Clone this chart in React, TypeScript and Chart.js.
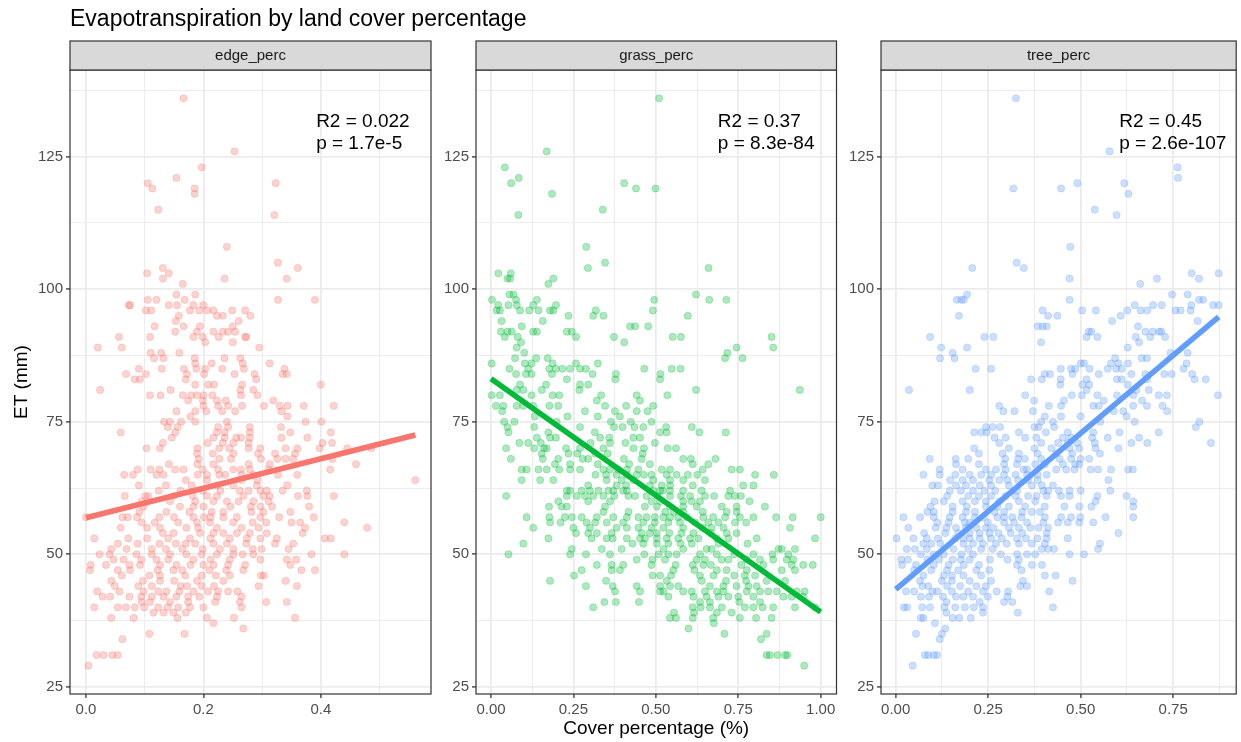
import React, { useEffect, useRef } from "react";
import { Chart, registerables } from "chart.js";
Chart.register(...registerables);

const TITLE = "Evapotranspiration by land cover percentage";
const X_TITLE = "Cover percentage (%)";
const Y_TITLE = "ET (mm)";

const yMajorTicks = [25, 50, 75, 100, 125];
const yMinorTicks = [37.5, 62.5, 87.5, 112.5, 137.5];
const edgeMajorTicks = [0, 0.2, 0.4];
const edgeMinorTicks = [0.1, 0.3, 0.5];
const grassMajorTicks = [0, 0.25, 0.5, 0.75, 1];
const grassMinorTicks = [0.125, 0.375, 0.625, 0.875];
const treeMajorTicks = [0, 0.25, 0.5, 0.75];
const treeMinorTicks = [0.125, 0.375, 0.625, 0.875];

// Fitted lm lines: [cover at start, cover at end], [ET at start, ET at end]
const edgeFitX = [0, 0.561];
const edgeFitY = [56.9, 72.5];
const grassFitX = [0, 1.0];
const grassFitY = [83.1, 39.1];
const treeFitX = [0, 0.873];
const treeFitY = [43.4, 94.8];

const edgeStats = ["R2 = 0.022", "p = 1.7e-5"];
const grassStats = ["R2 = 0.37", "p = 8.3e-84"];
const treeStats = ["R2 = 0.45", "p = 2.6e-107"];

// Each row: [ET (mm), cover fractions of the observations with that ET]
type Row = [number, number[]];
const edgeRows: Row[] = [
  [136, [0.166]], [126, [0.253]], [123, [0.197]], [121, [0.154]], [120, [0.105, 0.323]],
  [119, [0.113, 0.185]], [118, [0.185]], [115, [0.123]], [114, [0.321]], [108, [0.240]],
  [105, [0.327]], [104, [0.131, 0.361]], [103, [0.104, 0.141]], [102, [0.131, 0.236, 0.342]],
  [101, [0.165]], [99, [0.154, 0.186]], [98, [0.105, 0.120, 0.168, 0.327, 0.390]],
  [97, [0.073, 0.075, 0.141, 0.155, 0.183, 0.200]],
  [96, [0.102, 0.111, 0.177, 0.193, 0.206, 0.217, 0.249, 0.271]],
  [95, [0.158, 0.223, 0.233, 0.280]], [94, [0.153, 0.260]], [93, [0.117, 0.166, 0.194, 0.250]],
  [92, [0.152, 0.189, 0.217, 0.233, 0.242, 0.254]],
  [91, [0.056, 0.109, 0.183, 0.199, 0.226, 0.271, 0.273]], [90, [0.203, 0.250]],
  [89, [0.020, 0.061, 0.295]], [88, [0.110, 0.128, 0.159]], [87, [0.116, 0.132, 0.185, 0.236, 0.263]],
  [86, [0.186, 0.214, 0.267, 0.313]],
  [85, [0.090, 0.129, 0.167, 0.188, 0.203, 0.232, 0.269, 0.338]],
  [84, [0.068, 0.102, 0.172, 0.201, 0.253, 0.287, 0.335, 0.342]],
  [83, [0.083, 0.092, 0.170, 0.290]], [82, [0.186, 0.208, 0.218, 0.266, 0.400]],
  [81, [0.024, 0.144, 0.263, 0.285]],
  [80, [0.109, 0.127, 0.165, 0.179, 0.189, 0.200, 0.215, 0.264, 0.292]],
  [79, [0.174, 0.199, 0.223, 0.238, 0.319]],
  [78, [0.200, 0.225, 0.242, 0.266, 0.303, 0.330, 0.343, 0.371, 0.422]],
  [77, [0.154, 0.186, 0.205, 0.232, 0.254, 0.333]], [76, [0.178, 0.343]],
  [75, [0.133, 0.143, 0.162, 0.186, 0.240, 0.374, 0.401]],
  [74, [0.139, 0.156, 0.225, 0.242, 0.279, 0.332]],
  [73, [0.059, 0.152, 0.223, 0.236, 0.279, 0.348, 0.417]],
  [72, [0.146, 0.217, 0.236, 0.256, 0.264, 0.279, 0.333, 0.377]],
  [71, [0.131, 0.207, 0.233, 0.251, 0.277, 0.403, 0.419]],
  [70, [0.103, 0.126, 0.190, 0.227, 0.244, 0.277, 0.297, 0.340, 0.360, 0.398, 0.445, 0.486]],
  [69, [0.189, 0.216, 0.251, 0.293, 0.322, 0.356]],
  [68, [0.192, 0.227, 0.247, 0.298, 0.326, 0.340, 0.353, 0.420]],
  [67, [0.141, 0.190, 0.217, 0.277, 0.313, 0.460]],
  [66, [0.088, 0.110, 0.125, 0.152, 0.166, 0.199, 0.225, 0.251, 0.264, 0.279, 0.311, 0.416]],
  [65, [0.065, 0.080, 0.120, 0.132, 0.190, 0.206, 0.227, 0.237, 0.265, 0.285, 0.327, 0.360]],
  [64, [0.170, 0.206, 0.265, 0.292, 0.561]],
  [63, [0.090, 0.136, 0.180, 0.223, 0.251, 0.291, 0.343]],
  [62, [0.124, 0.161, 0.199, 0.229, 0.262, 0.277, 0.297, 0.308, 0.335, 0.376]],
  [61, [0.066, 0.101, 0.106, 0.149, 0.182, 0.206, 0.223, 0.268, 0.302, 0.313, 0.361, 0.377, 0.422]],
  [60, [0.095, 0.143, 0.186, 0.217, 0.240, 0.260, 0.285, 0.311]],
  [59, [0.098, 0.160, 0.183, 0.200, 0.246, 0.281, 0.297, 0.317, 0.380]],
  [58, [0.091, 0.137, 0.176, 0.214, 0.234, 0.282, 0.302, 0.348]],
  [57, [0.000, 0.062, 0.071, 0.087, 0.125, 0.150, 0.183, 0.201, 0.212, 0.234, 0.257, 0.297, 0.329, 0.388]],
  [56, [0.095, 0.117, 0.157, 0.189, 0.211, 0.251, 0.284, 0.307, 0.350, 0.365, 0.440]],
  [55, [0.059, 0.104, 0.126, 0.171, 0.191, 0.223, 0.265, 0.294, 0.373, 0.479]],
  [54, [0.131, 0.149, 0.194, 0.217, 0.234, 0.257, 0.279, 0.308, 0.369]],
  [53, [0.014, 0.072, 0.104, 0.140, 0.177, 0.212, 0.245, 0.274, 0.297, 0.325, 0.407, 0.417]],
  [52, [0.054, 0.088, 0.125, 0.153, 0.170, 0.186, 0.217, 0.240, 0.273, 0.322, 0.353]],
  [51, [0.043, 0.069, 0.112, 0.136, 0.164, 0.199, 0.228, 0.251, 0.284, 0.299, 0.345]],
  [50, [0.023, 0.040, 0.086, 0.112, 0.143, 0.171, 0.197, 0.223, 0.251, 0.267, 0.285, 0.384, 0.440]],
  [49, [0.047, 0.064, 0.094, 0.120, 0.140, 0.183, 0.212, 0.245, 0.297, 0.342, 0.358]],
  [48, [0.008, 0.034, 0.074, 0.092, 0.126, 0.154, 0.178, 0.200, 0.217, 0.242, 0.271, 0.348]],
  [47, [0.007, 0.054, 0.075, 0.122, 0.149, 0.164, 0.210, 0.239, 0.268, 0.367, 0.390]],
  [46, [0.061, 0.108, 0.126, 0.169, 0.197, 0.221, 0.245, 0.298, 0.303]],
  [45, [0.043, 0.097, 0.126, 0.150, 0.189, 0.234, 0.340]],
  [44, [0.049, 0.089, 0.112, 0.161, 0.172, 0.197, 0.218, 0.294, 0.359]],
  [43, [0.019, 0.057, 0.098, 0.123, 0.137, 0.159, 0.183, 0.208, 0.225, 0.242, 0.258]],
  [42, [0.028, 0.041, 0.074, 0.094, 0.112, 0.132, 0.154, 0.174, 0.193, 0.223, 0.265]],
  [41, [0.095, 0.109, 0.143, 0.174, 0.220, 0.262, 0.307, 0.342]],
  [40, [0.014, 0.054, 0.068, 0.083, 0.099, 0.123, 0.139, 0.157, 0.177, 0.200, 0.265]],
  [39, [0.115, 0.132, 0.149, 0.170]], [38, [0.043, 0.081, 0.156, 0.206, 0.252, 0.356]],
  [37, [0.217]], [36, [0.268]], [35, [0.108, 0.168]], [34, [0.062]],
  [31, [0.018, 0.030, 0.045, 0.054]], [29, [0.004]],
];

const grassRows: Row[] = [
  [136, [0.510]], [126, [0.169]], [123, [0.042]], [121, [0.084]], [120, [0.061, 0.404]],
  [119, [0.440, 0.499]], [118, [0.185]], [115, [0.339]], [114, [0.083]], [108, [0.289]],
  [105, [0.346]], [104, [0.294, 0.660]], [103, [0.022, 0.060]], [102, [0.050, 0.058, 0.189]],
  [101, [0.174]], [99, [0.056, 0.068, 0.622]], [98, [0.003, 0.076, 0.139, 0.495, 0.662, 0.714]],
  [97, [0.022, 0.053, 0.078, 0.128, 0.197]],
  [96, [0.017, 0.027, 0.088, 0.116, 0.144, 0.179, 0.189, 0.318, 0.491]],
  [95, [0.235, 0.310, 0.341, 0.597]], [94, [0.032, 0.157]], [93, [0.093, 0.422, 0.437, 0.477]],
  [92, [0.030, 0.050, 0.063, 0.128, 0.139, 0.230, 0.245]],
  [91, [0.042, 0.081, 0.258, 0.373, 0.551, 0.576, 0.851]], [90, [0.091, 0.404]],
  [89, [0.078, 0.745, 0.856]], [88, [0.101, 0.717]], [87, [0.073, 0.137, 0.172, 0.710, 0.763]],
  [86, [0.002, 0.103, 0.123, 0.187, 0.258, 0.324]],
  [85, [0.056, 0.113, 0.177, 0.197, 0.217, 0.240, 0.270, 0.288, 0.465, 0.548, 0.575]],
  [84, [0.076, 0.106, 0.123, 0.185, 0.308, 0.379, 0.514]],
  [83, [0.230, 0.377, 0.513]], [82, [0.088, 0.167, 0.270, 0.295]],
  [81, [0.078, 0.098, 0.154, 0.268, 0.622, 0.937]],
  [80, [0.002, 0.027, 0.123, 0.187, 0.207, 0.334, 0.442, 0.535]], [79, [0.321, 0.452]],
  [78, [0.015, 0.037, 0.078, 0.098, 0.128, 0.177, 0.204, 0.346, 0.410, 0.492]],
  [77, [0.034, 0.285, 0.376, 0.442, 0.475]], [76, [0.133, 0.232, 0.324, 0.391]],
  [75, [0.040, 0.071, 0.199, 0.364, 0.424, 0.487]],
  [74, [0.050, 0.131, 0.270, 0.373, 0.399, 0.435, 0.462, 0.531, 0.609]],
  [73, [0.053, 0.174, 0.315, 0.513, 0.533, 0.632, 0.712]],
  [72, [0.139, 0.179, 0.197, 0.331, 0.359, 0.432, 0.452]],
  [71, [0.086, 0.113, 0.151, 0.302, 0.361, 0.408, 0.497]],
  [70, [0.046, 0.131, 0.161, 0.169, 0.228, 0.270, 0.341, 0.432, 0.464, 0.536, 0.561]],
  [69, [0.154, 0.235, 0.262, 0.316, 0.354, 0.460]],
  [68, [0.060, 0.157, 0.204, 0.278, 0.295, 0.403, 0.457, 0.583, 0.606, 0.681]],
  [67, [0.194, 0.240, 0.324, 0.419, 0.482, 0.612, 0.659]],
  [66, [0.093, 0.108, 0.144, 0.169, 0.207, 0.240, 0.270, 0.341, 0.361, 0.386, 0.412, 0.447, 0.518, 0.543, 0.642, 0.730, 0.755]],
  [65, [0.317, 0.349, 0.381, 0.412, 0.442, 0.464, 0.487, 0.533, 0.563, 0.597, 0.626, 0.801, 0.858]],
  [64, [0.093, 0.149, 0.189, 0.351, 0.396, 0.432, 0.492, 0.543, 0.583, 0.649]],
  [63, [0.295, 0.381, 0.410, 0.482, 0.518, 0.543, 0.612, 0.765, 0.796]],
  [62, [0.230, 0.240, 0.275, 0.300, 0.326, 0.356, 0.371, 0.401, 0.412, 0.492, 0.513, 0.521, 0.543, 0.583, 0.639, 0.725]],
  [61, [0.046, 0.230, 0.260, 0.285, 0.310, 0.341, 0.374, 0.417, 0.437, 0.472, 0.506, 0.543, 0.576, 0.604, 0.649, 0.677, 0.720, 0.740, 0.758]],
  [60, [0.204, 0.295, 0.361, 0.487, 0.513, 0.583, 0.609, 0.634, 0.784]],
  [59, [0.176, 0.214, 0.230, 0.346, 0.467, 0.503, 0.543, 0.583, 0.624, 0.700, 0.745, 0.831]],
  [58, [0.341, 0.417, 0.528, 0.555, 0.583, 0.642, 0.715, 0.745]],
  [57, [0.108, 0.177, 0.224, 0.245, 0.275, 0.321, 0.371, 0.412, 0.447, 0.472, 0.497, 0.523, 0.543, 0.568, 0.594, 0.644, 0.674, 0.710, 0.755, 0.796, 0.865, 0.915, 1.000]],
  [56, [0.179, 0.211, 0.290, 0.316, 0.351, 0.401, 0.462, 0.497, 0.538, 0.573, 0.619, 0.659, 0.690, 0.740, 0.774]],
  [55, [0.128, 0.250, 0.300, 0.381, 0.412, 0.447, 0.487, 0.523, 0.583, 0.642, 0.669, 0.705, 0.907]],
  [54, [0.258, 0.295, 0.321, 0.366, 0.457, 0.482, 0.503, 0.541, 0.578, 0.614, 0.667, 0.715, 0.745]],
  [53, [0.174, 0.305, 0.351, 0.369, 0.412, 0.452, 0.467, 0.503, 0.533, 0.568, 0.604, 0.629, 0.685, 0.720, 0.806, 0.983]],
  [52, [0.098, 0.429, 0.462, 0.503, 0.538, 0.575, 0.609, 0.690, 0.778]],
  [51, [0.245, 0.336, 0.396, 0.523, 0.583, 0.654, 0.669, 0.872, 0.882, 0.922]],
  [50, [0.053, 0.240, 0.288, 0.361, 0.465, 0.508, 0.538, 0.563, 0.634, 0.685, 0.738, 0.796, 0.854, 0.902]],
  [49, [0.442, 0.490, 0.528, 0.624, 0.649, 0.700, 0.720, 0.776, 0.816, 0.856, 0.897, 0.917]],
  [48, [0.321, 0.366, 0.401, 0.487, 0.560, 0.612, 0.644, 0.667, 0.760, 0.826, 0.912, 0.947, 0.976]],
  [47, [0.275, 0.366, 0.391, 0.553, 0.617, 0.685, 0.715, 0.776, 0.882, 0.922]],
  [46, [0.252, 0.490, 0.513, 0.546, 0.634, 0.675, 0.738, 0.770, 0.801]],
  [45, [0.179, 0.349, 0.533, 0.639, 0.713, 0.774, 0.836, 0.892]],
  [44, [0.288, 0.369, 0.442, 0.513, 0.543, 0.568, 0.664, 0.705, 0.745, 0.781, 0.806]],
  [43, [0.376, 0.452, 0.513, 0.523, 0.583, 0.609, 0.649, 0.685, 0.705, 0.776, 0.816, 0.841, 0.867, 0.927, 0.951]],
  [42, [0.538, 0.614, 0.654, 0.690, 0.720, 0.750, 0.796, 0.887, 0.912, 0.947]],
  [41, [0.344, 0.379, 0.449, 0.634, 0.664, 0.753, 0.816]],
  [40, [0.310, 0.612, 0.636, 0.664, 0.700, 0.770, 0.796, 0.824, 0.856, 0.922, 0.983]],
  [39, [0.555, 0.616, 0.685, 0.730]], [38, [0.543, 0.561, 0.612, 0.674, 0.755, 0.804, 0.851]],
  [37, [0.676]], [36, [0.599]], [35, [0.708, 0.836]], [34, [0.819]],
  [31, [0.836, 0.846, 0.869, 0.892, 0.899]], [29, [0.950]],
];

const treeRows: Row[] = [
  [136, [0.325]], [126, [0.578]], [123, [0.762]], [121, [0.763]], [120, [0.491, 0.618]],
  [119, [0.318, 0.447]], [118, [0.629]], [115, [0.538]], [114, [0.597]], [108, [0.472]],
  [105, [0.327]], [104, [0.207, 0.346]], [103, [0.800, 0.873]], [102, [0.470, 0.706, 0.820]],
  [101, [0.661]], [99, [0.193, 0.747, 0.789]], [98, [0.165, 0.177, 0.184, 0.470, 0.820, 0.831]],
  [97, [0.646, 0.696, 0.719, 0.799, 0.858, 0.873]],
  [96, [0.397, 0.504, 0.541, 0.626, 0.662, 0.680, 0.756, 0.770, 0.797]],
  [95, [0.171, 0.412, 0.437, 0.608]], [94, [0.585, 0.816]], [93, [0.384, 0.397, 0.408, 0.655]],
  [92, [0.522, 0.529, 0.675, 0.695, 0.712, 0.718]],
  [91, [0.093, 0.240, 0.264, 0.516, 0.545, 0.649, 0.688, 0.728]], [90, [0.393, 0.658]],
  [89, [0.123, 0.193, 0.627]], [88, [0.154, 0.743, 0.789]], [87, [0.120, 0.159, 0.593, 0.665, 0.679]],
  [86, [0.500, 0.509, 0.582, 0.602, 0.628, 0.786]],
  [85, [0.216, 0.258, 0.446, 0.474, 0.485, 0.524, 0.573, 0.596, 0.611, 0.778]],
  [84, [0.403, 0.417, 0.478, 0.549, 0.637, 0.675, 0.726, 0.746, 0.801]],
  [83, [0.366, 0.395, 0.446, 0.516, 0.598, 0.611, 0.680, 0.808, 0.838]],
  [82, [0.445, 0.505, 0.523, 0.627]], [81, [0.036, 0.200, 0.516, 0.650, 0.684]],
  [80, [0.350, 0.476, 0.503, 0.545, 0.598, 0.642, 0.711, 0.733, 0.871]],
  [79, [0.374, 0.455, 0.562, 0.666]],
  [78, [0.280, 0.414, 0.447, 0.534, 0.549, 0.642, 0.679, 0.721]],
  [77, [0.291, 0.321, 0.371, 0.589, 0.615, 0.734]], [76, [0.403, 0.447, 0.500, 0.624]],
  [75, [0.393, 0.425, 0.553, 0.646, 0.821]],
  [74, [0.244, 0.262, 0.282, 0.375, 0.386, 0.428, 0.811]],
  [73, [0.212, 0.231, 0.246, 0.333, 0.406, 0.465, 0.534, 0.605, 0.711]],
  [72, [0.267, 0.297, 0.350, 0.380, 0.452, 0.474, 0.531, 0.573, 0.658]],
  [71, [0.280, 0.393, 0.439, 0.465, 0.490, 0.538, 0.637, 0.680, 0.852]],
  [70, [0.212, 0.306, 0.375, 0.421, 0.470, 0.496, 0.540, 0.602]],
  [69, [0.225, 0.289, 0.333, 0.383, 0.434, 0.477, 0.552]],
  [68, [0.092, 0.162, 0.196, 0.296, 0.331, 0.349, 0.393, 0.443, 0.474, 0.500, 0.523]],
  [67, [0.163, 0.225, 0.293, 0.328, 0.377, 0.403, 0.452, 0.485, 0.496]],
  [66, [0.119, 0.181, 0.244, 0.271, 0.297, 0.346, 0.355, 0.434, 0.461, 0.483, 0.527, 0.547, 0.582, 0.628, 0.641]],
  [65, [0.075, 0.119, 0.161, 0.200, 0.231, 0.258, 0.293, 0.324, 0.355, 0.384, 0.408]],
  [64, [0.147, 0.181, 0.209, 0.253, 0.280, 0.302, 0.331, 0.358, 0.384, 0.575]],
  [63, [0.099, 0.114, 0.163, 0.190, 0.227, 0.258, 0.306, 0.368, 0.395, 0.425]],
  [62, [0.146, 0.176, 0.209, 0.240, 0.269, 0.328, 0.399, 0.412, 0.441, 0.470, 0.500, 0.580]],
  [61, [0.139, 0.196, 0.225, 0.258, 0.297, 0.324, 0.358, 0.381, 0.408, 0.447, 0.470, 0.545, 0.624]],
  [60, [0.105, 0.130, 0.181, 0.214, 0.244, 0.280, 0.333, 0.377, 0.540, 0.642]],
  [59, [0.094, 0.154, 0.192, 0.244, 0.275, 0.306, 0.350, 0.403, 0.456, 0.496, 0.529, 0.642]],
  [58, [0.086, 0.103, 0.154, 0.190, 0.214, 0.267, 0.293, 0.342, 0.368, 0.390]],
  [57, [0.021, 0.066, 0.103, 0.146, 0.181, 0.214, 0.236, 0.275, 0.293, 0.315, 0.340, 0.403, 0.447, 0.474, 0.499, 0.567, 0.642]],
  [56, [0.112, 0.143, 0.187, 0.200, 0.249, 0.293, 0.320, 0.355, 0.399, 0.439, 0.465, 0.496, 0.534]],
  [55, [0.034, 0.108, 0.137, 0.163, 0.190, 0.218, 0.244, 0.264, 0.306, 0.333, 0.364, 0.386, 0.412]],
  [54, [0.077, 0.134, 0.169, 0.200, 0.227, 0.253, 0.278, 0.311, 0.342, 0.408, 0.602]],
  [53, [0.002, 0.048, 0.084, 0.114, 0.161, 0.183, 0.200, 0.227, 0.258, 0.287, 0.328, 0.352, 0.383, 0.408, 0.465]],
  [52, [0.075, 0.096, 0.121, 0.183, 0.209, 0.236, 0.271, 0.300, 0.333, 0.368, 0.403, 0.552]],
  [51, [0.030, 0.052, 0.084, 0.156, 0.196, 0.231, 0.262, 0.395, 0.412, 0.428, 0.547]],
  [50, [0.068, 0.103, 0.130, 0.178, 0.209, 0.284, 0.328, 0.355, 0.377, 0.470, 0.509]],
  [49, [0.015, 0.033, 0.086, 0.117, 0.154, 0.176, 0.200, 0.255, 0.302, 0.333]],
  [48, [0.017, 0.055, 0.103, 0.143, 0.184, 0.225, 0.328, 0.368, 0.395]],
  [47, [0.050, 0.096, 0.139, 0.169, 0.218, 0.253, 0.340]],
  [46, [0.075, 0.130, 0.152, 0.183, 0.231, 0.403, 0.432]],
  [45, [0.066, 0.125, 0.152, 0.200, 0.258, 0.344, 0.478]],
  [44, [0.072, 0.088, 0.139, 0.174, 0.218, 0.244, 0.337, 0.355]],
  [43, [0.028, 0.050, 0.099, 0.112, 0.152, 0.196, 0.236, 0.273, 0.304, 0.415]],
  [42, [0.068, 0.090, 0.128, 0.163, 0.183, 0.209, 0.249, 0.302]],
  [41, [0.137, 0.227, 0.293, 0.315]],
  [40, [0.022, 0.031, 0.072, 0.093, 0.132, 0.161, 0.187, 0.211, 0.236, 0.425]],
  [39, [0.137, 0.236, 0.330]], [38, [0.068, 0.075, 0.154, 0.172, 0.203]],
  [37, [0.106]], [36, [0.134]], [35, [0.055, 0.125]], [34, [0.119]],
  [31, [0.079, 0.088, 0.103, 0.112]], [29, [0.046]],
];

const W = 1241;
const H = 742;
const FONT = "'Liberation Sans', Arimo, Helvetica, Arial, sans-serif";
const f = (s: number) => `${s}px ${FONT}`;

const Y_MIN = 23.65;
const Y_MAX = 141.35;
const PANEL_TOP = 70;
const STRIP_TOP = 41;
const X_AXIS_H = 48;
const Y_AXIS_W = 40;
const STAT_Y = [131.5, 127.4];

type Panel = {
  key: string; rows: Row[]; fitX: number[]; fitY: number[]; stats: string[]; statX: number;
  major: number[]; minor: number[]; digits: number; rgb: string;
  L: number; R: number; xmin: number; xmax: number; role: "first" | "middle" | "last";
};

const panels: Panel[] = [
  { key: "edge_perc", rows: edgeRows, fitX: edgeFitX, fitY: edgeFitY, stats: edgeStats, statX: 0.392,
    major: edgeMajorTicks, minor: edgeMinorTicks, digits: 1, rgb: "248,118,109",
    L: 70, R: 431, xmin: -0.0273, xmax: 0.5877, role: "first" },
  { key: "grass_perc", rows: grassRows, fitX: grassFitX, fitY: grassFitY, stats: grassStats, statX: 0.688,
    major: grassMajorTicks, minor: grassMinorTicks, digits: 2, rgb: "0,186,56",
    L: 476, R: 836.5, xmin: -0.0455, xmax: 1.048, role: "middle" },
  { key: "tree_perc", rows: treeRows, fitX: treeFitX, fitY: treeFitY, stats: treeStats, statX: 0.604,
    major: treeMajorTicks, minor: treeMinorTicks, digits: 2, rgb: "97,156,255",
    L: 881, R: 1242.5, xmin: -0.0397, xmax: 0.9203, role: "last" },
];

const isIn = (arr: number[], v: number) => arr.some((a) => Math.abs(a - v) < 1e-9);

function makeGrid(minor: number[]) {
  return {
    color: "#EBEBEB",
    lineWidth: (c: any) => (c.tick && isIn(minor, c.tick.value) ? 0.9 : 1.8),
    tickColor: (c: any) => (c.tick && isIn(minor, c.tick.value) ? "rgba(0,0,0,0)" : "#333333"),
    tickWidth: 1.3,
    tickLength: 4,
    drawTicks: true,
    drawOnChartArea: true,
  };
}

function facetPlugin(p: Panel) {
  return {
    id: "facet_" + p.key,
    afterDraw(chart: any) {
      const { ctx, chartArea: a, scales } = chart;
      ctx.save();
      ctx.strokeStyle = "#333333";
      ctx.lineWidth = 1.2;
      ctx.strokeRect(a.left, a.top, a.right - a.left, a.bottom - a.top);
      ctx.fillStyle = "#D9D9D9";
      ctx.fillRect(a.left, STRIP_TOP, a.right - a.left, a.top - STRIP_TOP);
      ctx.strokeRect(a.left, STRIP_TOP, a.right - a.left, a.top - STRIP_TOP);
      ctx.fillStyle = "#1A1A1A";
      ctx.font = f(15);
      ctx.textAlign = "center";
      ctx.textBaseline = "middle";
      ctx.fillText(p.key, (a.left + a.right) / 2, (STRIP_TOP + a.top) / 2 + 0.5);

      ctx.fillStyle = "#000000";
      ctx.font = f(19);
      ctx.textAlign = "left";
      const sx = scales.x.getPixelForValue(p.statX);
      p.stats.forEach((s, i) => ctx.fillText(s, sx, scales.y.getPixelForValue(STAT_Y[i])));

      if (p.role === "first") {
        ctx.font = f(23);
        ctx.textBaseline = "alphabetic";
        ctx.fillText(TITLE, a.left, 26);
        ctx.save();
        ctx.translate(22, (a.top + a.bottom) / 2);
        ctx.rotate(-Math.PI / 2);
        ctx.textAlign = "center";
        ctx.textBaseline = "middle";
        ctx.font = f(19);
        ctx.fillText(Y_TITLE, 0, 0);
        ctx.restore();
      }
      if (p.role === "middle") {
        ctx.font = f(19);
        ctx.textAlign = "center";
        ctx.textBaseline = "middle";
        ctx.fillText(X_TITLE, (a.left + a.right) / 2, 729);
      }
      ctx.restore();
    },
  };
}

function PanelChart({ p }: { p: Panel }) {
  const ref = useRef<HTMLCanvasElement>(null);
  useEffect(() => {
    const points = p.rows.flatMap(([et, xs]) => xs.map((x) => ({ x, y: et })));
    const fit = p.fitX.map((x, i) => ({ x, y: p.fitY[i] }));
    const xTicks = [...p.major, ...p.minor].sort((a, b) => a - b);
    const yTicks = [...yMajorTicks, ...yMinorTicks].sort((a, b) => a - b);
    const chart = new Chart(ref.current as HTMLCanvasElement, {
      type: "scatter",
      data: {
        datasets: [
          {
            data: fit,
            showLine: true,
            pointRadius: 0,
            borderColor: `rgb(${p.rgb})`,
            borderWidth: 5.5,
            borderCapStyle: "butt",
            order: 1,
          } as any,
          {
            data: points,
            pointRadius: 3.6,
            pointBorderWidth: 0.8,
            backgroundColor: `rgba(${p.rgb},0.32)`,
            borderColor: `rgba(${p.rgb},0.32)`,
            order: 2,
          } as any,
        ],
      },
      options: {
        animation: false,
        responsive: false,
        devicePixelRatio: 1,
        events: [],
        layout: { padding: { left: p.L - Y_AXIS_W, right: W - p.R, top: PANEL_TOP, bottom: 0 } },
        plugins: { legend: { display: false }, tooltip: { enabled: false }, title: { display: false } },
        scales: {
          x: {
            type: "linear",
            position: "bottom",
            min: p.xmin,
            max: p.xmax,
            afterBuildTicks: (s: any) => { s.ticks = xTicks.map((v) => ({ value: v })); },
            afterFit: (s: any) => { s.height = X_AXIS_H; },
            grid: makeGrid(p.minor) as any,
            border: { display: false },
            ticks: {
              autoSkip: false,
              maxRotation: 0,
              includeBounds: false,
              padding: 3,
              color: "#4D4D4D",
              font: { family: FONT, size: 15 },
              callback: (v: any) => (isIn(p.minor, Number(v)) ? "" : Number(v).toFixed(p.digits)),
            },
          },
          y: {
            type: "linear",
            position: "left",
            min: Y_MIN,
            max: Y_MAX,
            afterBuildTicks: (s: any) => { s.ticks = yTicks.map((v) => ({ value: v })); },
            afterFit: (s: any) => { s.width = Y_AXIS_W; },
            grid: makeGrid(yMinorTicks) as any,
            border: { display: false },
            ticks: {
              autoSkip: false,
              includeBounds: false,
              padding: 3,
              color: "#4D4D4D",
              font: { family: FONT, size: 15 },
              callback: (v: any) => (isIn(yMinorTicks, Number(v)) ? "" : String(Number(v))),
            },
          },
        },
      },
      plugins: [facetPlugin(p)],
    } as any);
    return () => chart.destroy();
  }, [p]);
  return (
    <canvas
      ref={ref}
      width={W}
      height={H}
      style={{ position: "absolute", left: 0, top: 0, width: W, height: H }}
    />
  );
}

export default function App() {
  useEffect(() => {
    document.body.style.margin = "0";
  }, []);
  return (
    <div style={{ position: "relative", width: W, height: H, background: "#ffffff", overflow: "hidden" }}>
      {panels.map((p) => (
        <PanelChart key={p.key} p={p} />
      ))}
    </div>
  );
}
